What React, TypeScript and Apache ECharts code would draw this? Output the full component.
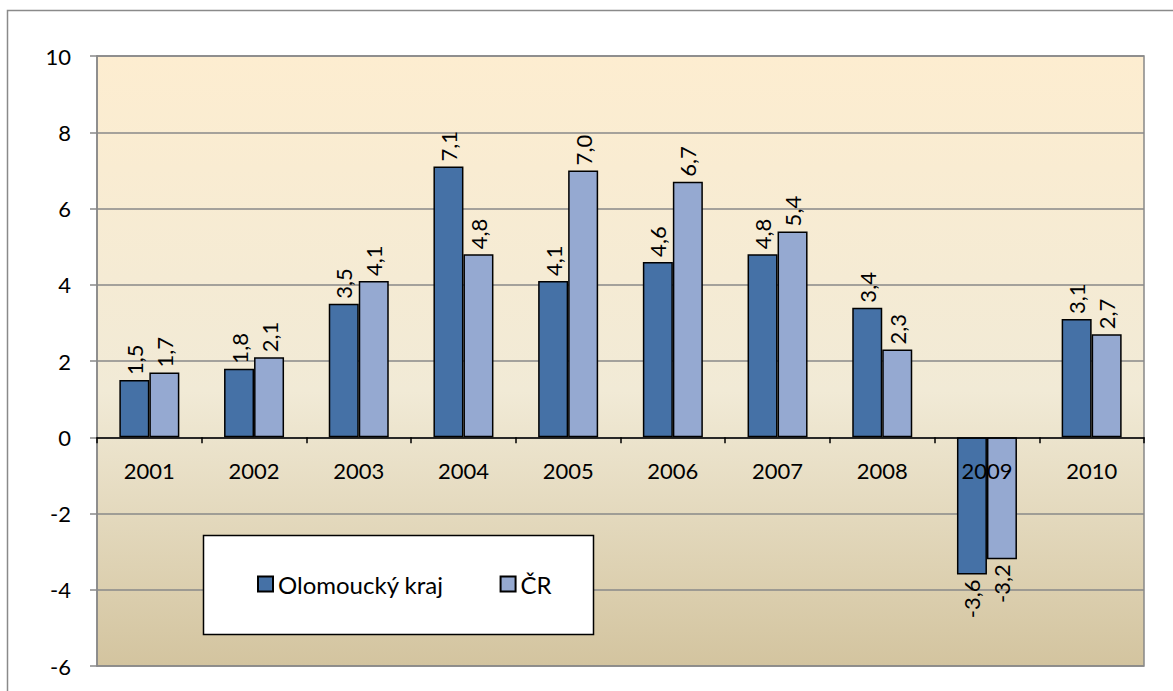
import React, { useEffect, useRef } from "react";
import * as echarts from "echarts";

const categories = ["2001", "2002", "2003", "2004", "2005", "2006", "2007", "2008", "2009", "2010"];
const olomouckyValues = [1.5, 1.8, 3.5, 7.1, 4.1, 4.6, 4.8, 3.4, -3.6, 3.1];
const crValues = [1.7, 2.1, 4.1, 4.8, 7.0, 6.7, 5.4, 2.3, -3.2, 2.7];
const seriesNames = ["Olomoucký kraj", "ČR"];
const yMin = -6;
const yMax = 10;
const yInterval = 2;

const FONT = "Lato, 'Open Sans', sans-serif";

const fmt = (v: number) => v.toFixed(1).replace(".", ",");

function makeData(values: number[]) {
  return values.map((v) => ({
    value: v,
    label:
      v < 0
        ? { position: "bottom", align: "right", verticalAlign: "middle", rotate: 90, distance: 5 }
        : { position: "top", align: "left", verticalAlign: "middle", rotate: 90, distance: 5 },
  }));
}

export default function App() {
  const ref = useRef<HTMLDivElement>(null);
  useEffect(() => {
    document.body.style.margin = "0";
    if (!ref.current) return;
    const chart = echarts.init(ref.current, undefined, { renderer: "svg" });
    const labelCommon = {
      show: true,
      color: "#000",
      fontFamily: FONT,
      fontSize: 22,
      formatter: (p: any) => fmt(p.value),
    };
    chart.setOption({
      animation: false,
      graphic: [
        {
          type: "rect",
          shape: { x: 7.5, y: 10.5, width: 1300, height: 800 },
          style: { fill: "none", stroke: "#8a8a8a", lineWidth: 1.5 },
          z: -10,
          silent: true,
        },
        {
          type: "rect",
          shape: { x: 203.5, y: 535.5, width: 390, height: 99 },
          style: { fill: "#ffffff", stroke: "#000000", lineWidth: 1.5 },
          z: 100,
          silent: true,
        },
      ],
      legend: {
        left: 252,
        top: 567,
        itemWidth: 15,
        itemHeight: 15,
        itemGap: 56,
        z: 101,
        icon: "rect",
        textStyle: { fontFamily: FONT, fontSize: 24, color: "#000" },
        data: seriesNames,
      },
      grid: {
        left: 97,
        top: 56,
        right: 29,
        bottom: 25,
        show: true,
        borderColor: "#888888",
        borderWidth: 1.5,
        backgroundColor: {
          type: "linear",
          x: 0,
          y: 0,
          x2: 0,
          y2: 1,
          colorStops: [
            { offset: 0, color: "#FDEDD0" },
            { offset: 0.55, color: "#F1EAD6" },
            { offset: 1, color: "#D3C49F" },
          ],
        },
      },
      xAxis: {
        type: "category",
        data: categories,
        z: 10,
        axisLine: { onZero: true, lineStyle: { color: "#000", width: 1.5 } },
        axisTick: { show: true, length: 6, lineStyle: { color: "#000", width: 1.5 } },
        axisLabel: { color: "#000", fontFamily: FONT, fontSize: 22, margin: -207 },
        splitLine: { show: false },
      },
      yAxis: {
        type: "value",
        min: yMin,
        max: yMax,
        interval: yInterval,
        axisLine: { show: true, lineStyle: { color: "#888888", width: 1.5 } },
        axisTick: { show: true, length: 7, lineStyle: { color: "#888888", width: 1.5 } },
        axisLabel: { color: "#000", fontFamily: FONT, fontSize: 22, margin: 26 },
        splitLine: { show: true, lineStyle: { color: "#888888", width: 1.5 } },
      },
      series: [
        {
          name: seriesNames[0],
          type: "bar",
          data: makeData(olomouckyValues),
          barWidth: 30,
          barGap: "0%",
          itemStyle: { color: "#4571A6", borderColor: "#000", borderWidth: 1.5 },
          label: labelCommon,
        },
        {
          name: seriesNames[1],
          type: "bar",
          data: makeData(crValues),
          barWidth: 30,
          barGap: "0%",
          itemStyle: { color: "#95A9D1", borderColor: "#000", borderWidth: 1.5 },
          label: labelCommon,
        },
      ],
    });
    return () => chart.dispose();
  }, []);
  return <div ref={ref} style={{ width: 1173, height: 691 }} />;
}
